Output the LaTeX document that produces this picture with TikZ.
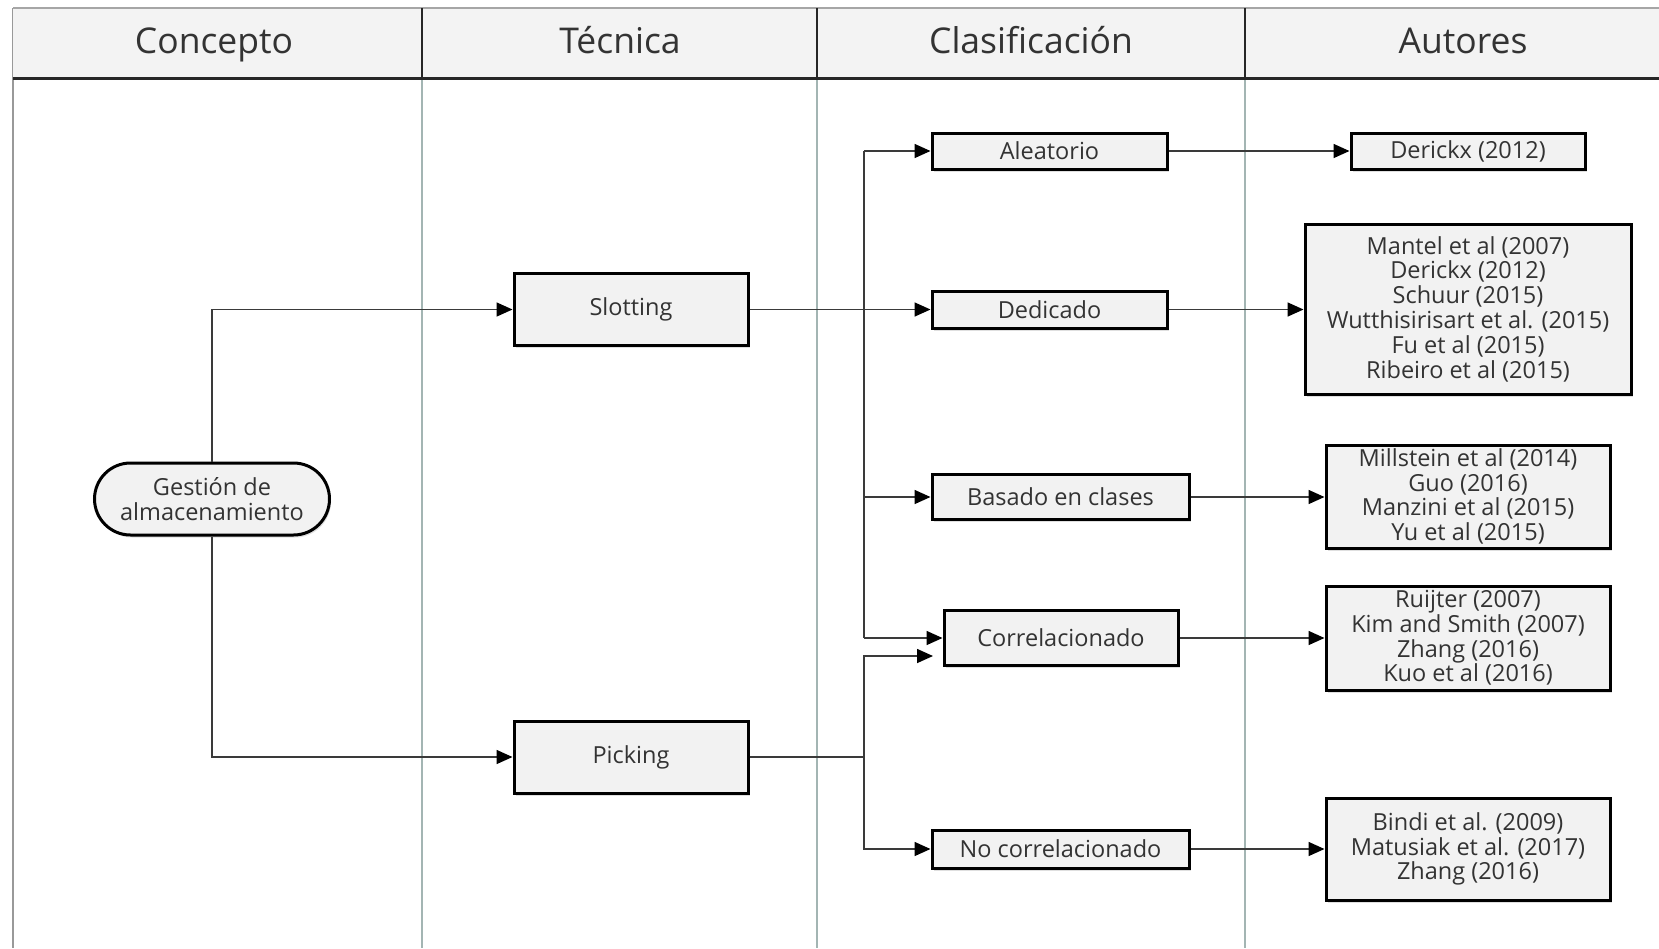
\documentclass[tikz,border=0pt]{standalone}
\usepackage{fontspec}
\setmainfont{Open Sans}
\usetikzlibrary{arrows.meta,shadows}
\definecolor{boxfill}{HTML}{F2F2F2}
\definecolor{headfill}{HTML}{F3F3F3}
\definecolor{txt}{HTML}{333333}
\definecolor{lane}{HTML}{A3B5B3}
\definecolor{wire}{HTML}{3A3A3A}
\tikzset{
  stepbox/.style={draw=black, line width=3pt, fill=boxfill, text=txt,
    font=\fontsize{23.5}{24.8}\selectfont, align=center, inner sep=2pt,
    drop shadow={shadow xshift=1.5pt, shadow yshift=-2.5pt, opacity=.25}},
  termbox/.style={stepbox, rounded corners=36pt},
  headtext/.style={text=txt, font=\fontsize{35.5}{40}\selectfont,
    text height=25pt, text depth=8pt},
  link/.style={draw=wire, line width=1.6pt},
  arr/.style={link, -{Triangle[length=16pt,width=14pt,fill=black,color=black]}},
}
\begin{document}
\begin{tikzpicture}[x=1pt,y=-1pt]
\useasboundingbox (0,0) rectangle (1659,948);
\fill[white] (0,0) rectangle (1659,948);

% swimlane separators
\foreach \lx in {422,817,1245}
  \draw[lane, line width=1.6pt] (\lx,78) -- (\lx,948);
\draw[draw=gray!80, line width=2.6pt] (13,8) -- (13,948);

% header band
\fill[headfill] (13,8) rectangle (1680,78);
\draw[gray!70, line width=2pt] (13,8) -- (1680,8);
\draw[black!85, line width=3pt] (13,78) -- (1680,78);
\foreach \lx in {422,817,1245}
  \draw[black!85, line width=2.4pt] (\lx,8) -- (\lx,78);
\node[headtext] (h1) at (214,45) {Concepto};
\node[headtext] (h2) at (620,45) {Técnica};
\node[headtext] (h3) at (1031,45) {Clasificación};
\node[headtext] (h4) at (1463,45) {Autores};

% concept and techniques
\node[termbox, minimum width=235pt, minimum height=72pt] (gest) at (212,499) {Gestión de\\almacenamiento};
\node[stepbox, minimum width=234pt, minimum height=72pt] (slot) at (631,309.5) {Slotting};
\node[stepbox, minimum width=234pt, minimum height=72pt] (pick) at (631,757) {Picking};

% classification
\node[stepbox, minimum width=235pt, minimum height=36pt] (alea) at (1049.5,151) {Aleatorio};
\node[stepbox, minimum width=235pt, minimum height=37pt] (dedi) at (1049.5,309.5) {Dedicado};
\node[stepbox, minimum width=257pt, minimum height=45pt] (basa) at (1060.5,497) {Basado en clases};
\node[stepbox, minimum width=234pt, minimum height=55pt] (corr) at (1061,638) {Correlacionado};
\node[stepbox, minimum width=257pt, minimum height=38pt] (ncor) at (1060.5,849) {No correlacionado};

% authors
\node[stepbox, minimum width=234pt, minimum height=36pt] (a1) at (1468,151) {Derickx (2012)};
\node[stepbox, minimum width=326pt, minimum height=170pt] (a2) at (1468,309) {Mantel et al (2007)\\Derickx (2012)\\Schuur (2015)\\Wutthisirisart et al. (2015)\\Fu et al (2015)\\Ribeiro et al (2015)};
\node[stepbox, minimum width=284pt, minimum height=103pt] (a3) at (1468,496.5) {Millstein et al (2014)\\Guo (2016)\\Manzini et al (2015)\\Yu et al (2015)};
\node[stepbox, minimum width=284pt, minimum height=104pt] (a4) at (1468,638) {Ruijter (2007)\\Kim and Smith (2007)\\Zhang (2016)\\Kuo et al (2016)};
\node[stepbox, minimum width=284pt, minimum height=102pt] (a5) at (1468,849) {Bindi et al. (2009)\\Matusiak et al. (2017)\\Zhang (2016)};

% bus column and free arrow end
\coordinate (bx) at (864,0);
\coordinate (c2) at (933,656);

% concept to techniques
\draw[arr] (gest.north) |- (slot.west);
\draw[arr] (gest.south) |- (pick.west);

% slotting branches
\draw[link] (slot.east) -- (bx |- slot.east);
\draw[link] (bx |- alea.west) -- (bx |- corr.west);
\draw[arr] (bx |- alea.west) -- (alea.west);
\draw[arr] (bx |- dedi.west) -- (dedi.west);
\draw[arr] (bx |- basa.west) -- (basa.west);
\draw[arr] (bx |- corr.west) -- (corr.west);

% picking branches
\draw[arr] (pick.east) -| (bx |- c2) -- (c2);
\draw[arr] (bx |- pick.east) |- (ncor.west);

% classification to authors
\draw[arr] (alea.east) -- (a1.west);
\draw[arr] (dedi.east) -- (a2.west |- dedi.east);
\draw[arr] (basa.east) -- (a3.west |- basa.east);
\draw[arr] (corr.east) -- (a4.west |- corr.east);
\draw[arr] (ncor.east) -- (a5.west |- ncor.east);
\end{tikzpicture}
\end{document}
